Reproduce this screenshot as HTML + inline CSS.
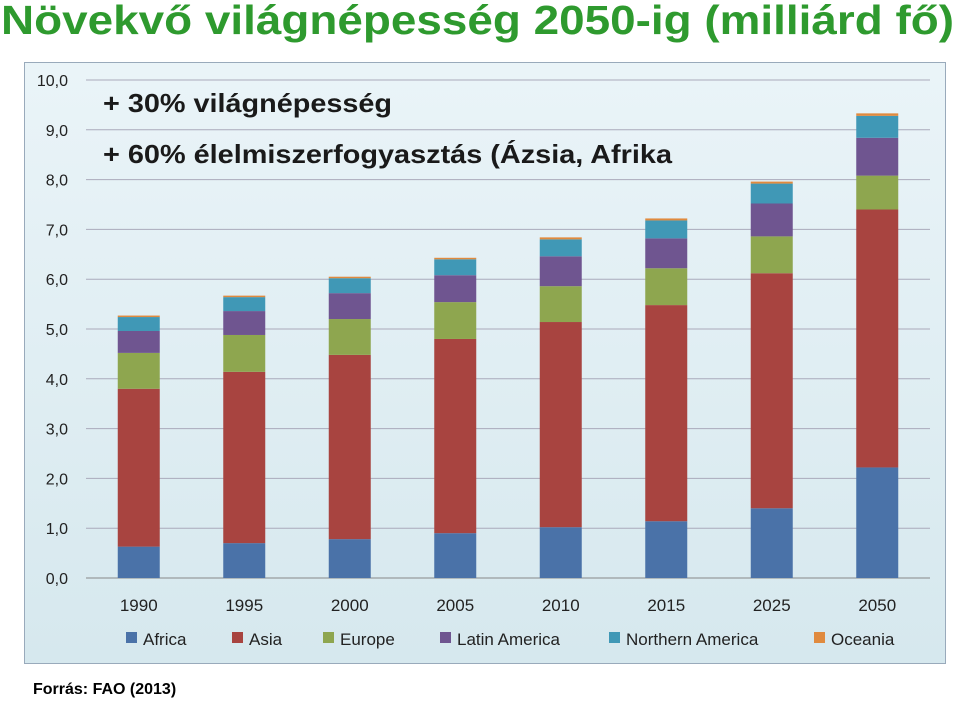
<!DOCTYPE html>
<html><head><meta charset="utf-8"><style>
body{margin:0;width:960px;height:705px;background:#fff;overflow:hidden;font-family:"Liberation Sans",sans-serif;position:relative}
#src{position:absolute;left:33px;top:681px;font-size:16px;font-weight:bold;color:#000}
#box{position:absolute;left:24px;top:62px;width:920px;height:600px;border:1px solid #9ab;background:linear-gradient(#eaf4f8,#d6e8ee)}
</style></head><body>
<div id="box"></div>
<svg id="chart" width="960" height="705" style="position:absolute;left:0;top:0">
<text x="1" y="34" font-size="41" font-weight="bold" fill="#2e9a2e" textLength="953" lengthAdjust="spacingAndGlyphs" font-family="Liberation Sans, sans-serif">Növekvő világnépesség 2050-ig (milliárd fő)</text>
</svg>
<div id="src">Forrás: FAO (2013)</div>
<script>
const categories=["1990","1995","2000","2005","2010","2015","2025","2050"];
const seriesNames=["Africa","Asia","Europe","Latin America","Northern America","Oceania"];
const africa=[0.63,0.70,0.78,0.90,1.02,1.14,1.40,2.22];
const asia=[3.17,3.44,3.70,3.90,4.12,4.34,4.72,5.18];
const europe=[0.72,0.74,0.72,0.74,0.72,0.74,0.74,0.68];
const latinAmerica=[0.44,0.48,0.52,0.54,0.60,0.60,0.66,0.76];
const northernAmerica=[0.28,0.28,0.30,0.32,0.34,0.36,0.40,0.44];
const oceania=[0.03,0.03,0.03,0.03,0.04,0.04,0.04,0.05];
const yTicks=["0,0","1,0","2,0","3,0","4,0","5,0","6,0","7,0","8,0","9,0","10,0"];
const colors=["#4a72a8","#a84440","#8ea64f","#6f5590","#4098b6","#e08a3e"];
const series=[africa,asia,europe,latinAmerica,northernAmerica,oceania];
const NS="http://www.w3.org/2000/svg";
const svg=document.getElementById('chart');
const x0=86,x1=930,yBase=578,yTop=80,yMax=10;
const y=v=>yBase-(v/yMax)*(yBase-yTop);
const band=(x1-x0)/categories.length;
const xc=i=>x0+band*(i+0.5);
function mk(t,a){const e=document.createElementNS(NS,t);for(const k in a)e.setAttribute(k,a[k]);svg.appendChild(e);return e;}
yTicks.forEach((t,i)=>{
 const yy=y(i);
 const g=mk('line',{x1:x0,x2:x1,y1:yy,y2:yy,stroke:i==0?'#888':'#aab','stroke-width':1});
 
 
 const tx=mk('text',{x:68,y:yy+6,'text-anchor':'end','font-size':16,fill:'#222','font-family':'Liberation Sans, sans-serif'});
 tx.textContent=t;
 
 
});
const bw=42;
categories.forEach((c,i)=>{
 let acc=0;
 series.forEach((s,k)=>{
  const r=mk('rect',{x:xc(i)-bw/2,y:y(acc+s[i]),width:bw,height:y(acc)-y(acc+s[i]),fill:colors[k]});
  
  
  acc+=s[i];
 });
 const t=mk('text',{x:xc(i),y:611,'text-anchor':'middle','font-size':17,fill:'#222','font-family':'Liberation Sans, sans-serif'});
 t.textContent=c;
 
 
});
const ann=["+ 30% világnépesség","+ 60% élelmiszerfogyasztás (Ázsia, Afrika"];
const annW=[289,569];
ann.forEach((a,i)=>{
 const t=mk('text',{x:103,y:112+i*51,'font-size':26,'font-weight':'bold',fill:'#1a1a1a',textLength:annW[i],lengthAdjust:'spacingAndGlyphs','font-family':'Liberation Sans, sans-serif'});
 t.textContent=a;
 
 
});
const lx=[126,232,323,440,609,814];
seriesNames.forEach((n,k)=>{
 const r=mk('rect',{x:lx[k],y:632,width:11,height:11,fill:colors[k]});
 
 
 const t=mk('text',{x:lx[k]+17,y:645,'font-size':17,fill:'#222','font-family':'Liberation Sans, sans-serif'});
 t.textContent=n;
 
 
});
</script>
</body></html>
